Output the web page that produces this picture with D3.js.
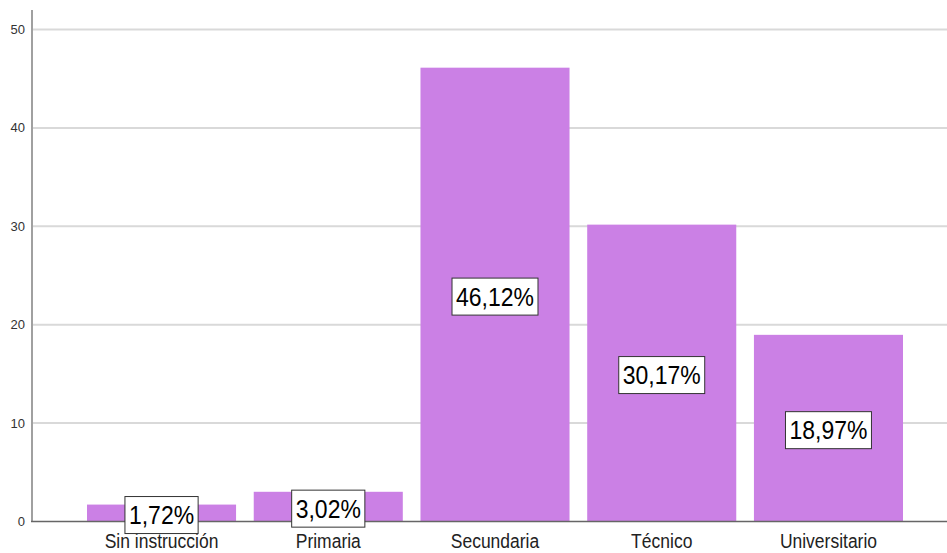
<!DOCTYPE html>
<html>
<head>
<meta charset="utf-8">
<script src="https://cdn.jsdelivr.net/npm/d3@7"></script>
<style>
  body { margin: 0; background: #fff; }
  text { font-family: "Liberation Sans", Arial, sans-serif; }
</style>
</head>
<body>
<div id="chart"></div>
<script>
// Data
const categories = ["Sin instrucción", "Primaria", "Secundaria", "Técnico", "Universitario"];
const percents = [1.72, 3.02, 46.12, 30.17, 18.97];
const yTicks = [0, 10, 20, 30, 40, 50];

const W = 947, H = 553;

const svg = d3.select("#chart")
    .append("svg")
    .attr("width", W)
    .attr("height", H);

// Scales
const x = d3.scaleBand()
    .domain(categories)
    .range([69.5, 920.5])
    .paddingInner(0.106)
    .paddingOuter(0.105);

const y = d3.scaleLinear()
    .domain([0, 50])
    .range([521.5, 29.5]);

// Gridlines
svg.append("g")
    .selectAll("line")
    .data(yTicks.filter(d => d > 0))
    .join("line")
    .attr("x1", 33)
    .attr("x2", W)
    .attr("y1", d => y(d))
    .attr("y2", d => y(d))
    .attr("stroke", "#d9d9d9")
    .attr("stroke-width", 2);

// Y axis labels
svg.append("g")
    .selectAll("text")
    .data(yTicks)
    .join("text")
    .attr("x", 25)
    .attr("y", d => y(d))
    .attr("dy", "0.35em")
    .attr("text-anchor", "end")
    .attr("font-size", 13)
    .attr("fill", "#333")
    .text(d => d);

// Bars
svg.append("g")
    .selectAll("rect")
    .data(percents)
    .join("rect")
    .attr("x", (d, i) => x(categories[i]))
    .attr("y", d => y(d))
    .attr("width", x.bandwidth())
    .attr("height", d => y(0) - y(d))
    .attr("fill", "#cb80e5");

// Axis lines
svg.append("line")
    .attr("x1", 32).attr("x2", 32)
    .attr("y1", 10).attr("y2", y(0))
    .attr("stroke", "#a0a0a0")
    .attr("stroke-width", 2);

svg.append("line")
    .attr("x1", 31).attr("x2", W)
    .attr("y1", y(0)).attr("y2", y(0))
    .attr("stroke", "#666")
    .attr("stroke-width", 1.5);

// Category labels (slightly tall glyphs, like the original renderer)
svg.append("g")
    .selectAll("text")
    .data(categories)
    .join("text")
    .attr("transform", d => `translate(${x(d) + x.bandwidth() / 2},548) scale(1,1.15)`)
    .attr("text-anchor", "middle")
    .attr("font-size", 17.5)
    .attr("fill", "#222")
    .text(d => d);

// Value labels in boxes
const labels = svg.append("g")
    .selectAll("g")
    .data(percents)
    .join("g")
    .attr("transform", (d, i) =>
        `translate(${x(categories[i]) + x.bandwidth() / 2},${(y(d) + y(0)) / 2 + 2})`);

labels.append("rect")
    .attr("fill", "#fff")
    .attr("stroke", "#333")
    .attr("stroke-width", 1);

labels.append("text")
    .attr("text-anchor", "middle")
    .attr("dy", "0.36em")
    .attr("transform", "scale(1,1.12)")
    .attr("font-size", 23)
    .attr("fill", "#000")
    .text(d => d.toFixed(2).replace(".", ",") + "%");

labels.each(function() {
    const g = d3.select(this);
    const bb = g.select("text").node().getBBox();
    g.select("rect")
        .attr("x", -bb.width / 2 - 4)
        .attr("y", -18.5)
        .attr("width", bb.width + 8)
        .attr("height", 37);
});
</script>
</body>
</html>
